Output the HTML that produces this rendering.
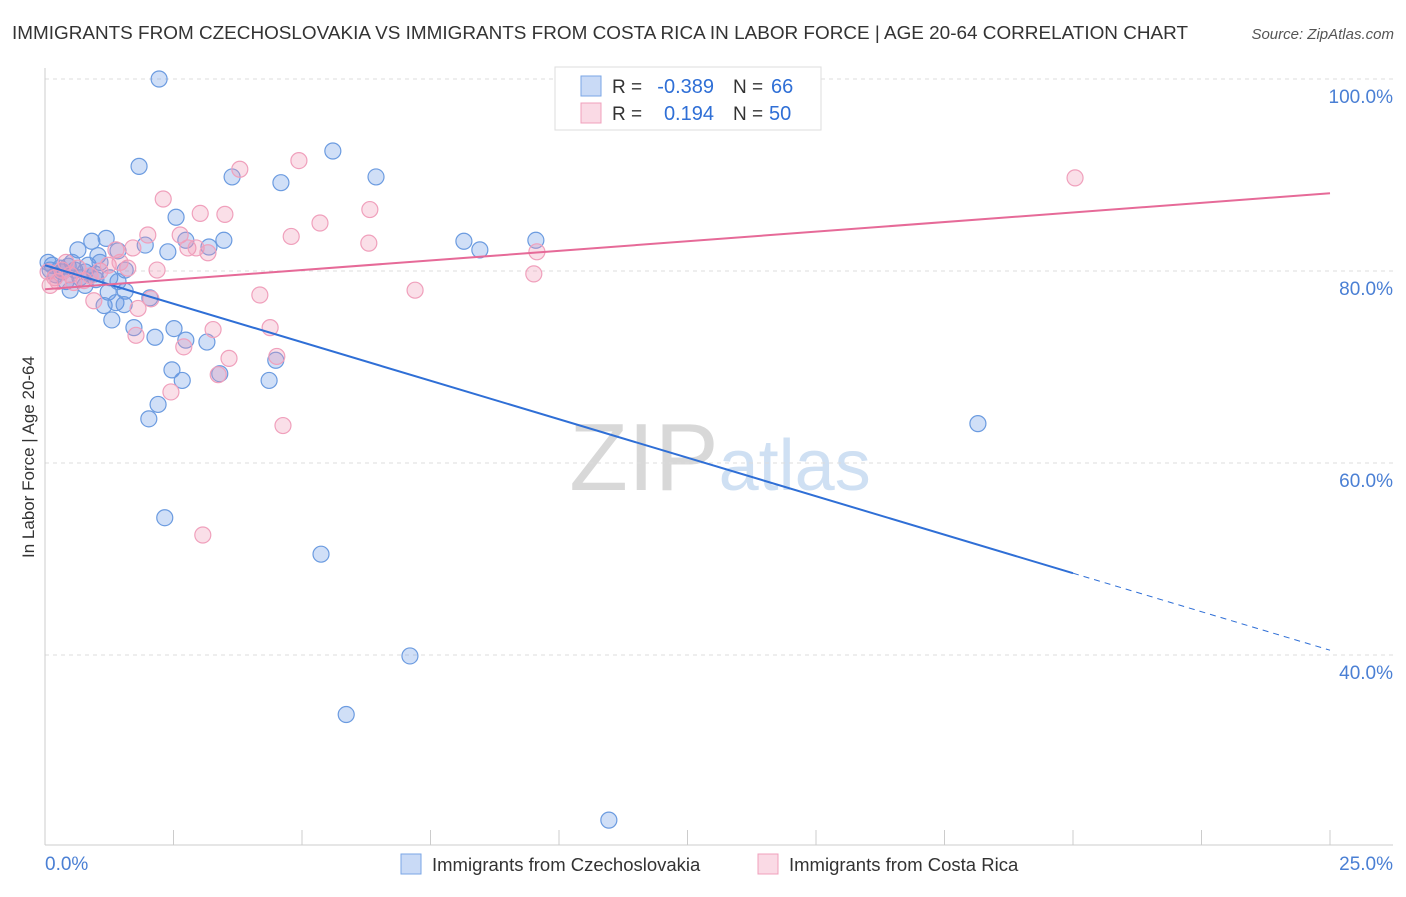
<!DOCTYPE html>
<html><head><meta charset="utf-8"><style>
body{margin:0;background:#fff;font-family:"Liberation Sans",sans-serif;}
svg text{font-family:"Liberation Sans",sans-serif;}
</style></head><body>
<svg id="chart" width="1406" height="892" xmlns="http://www.w3.org/2000/svg">
<text x="12" y="39" font-size="18.5" fill="#333" textLength="1176" lengthAdjust="spacingAndGlyphs">IMMIGRANTS FROM CZECHOSLOVAKIA VS IMMIGRANTS FROM COSTA RICA IN LABOR FORCE | AGE 20-64 CORRELATION CHART</text>
<text x="1394" y="39" font-size="15" fill="#555" text-anchor="end" font-style="italic">Source: ZipAtlas.com</text>
<text x="720" y="490" font-size="96" text-anchor="middle" font-family="Liberation Serif" fill="#ddd"><tspan fill="#d8d8d8">ZIP</tspan><tspan fill="#cfe0f3" font-family="Liberation Sans" font-size="72">atlas</tspan></text>
<g id="grid"></g>
<g id="axes"></g>
<g id="pts"></g>
<g id="lines"></g>
<text transform="translate(34,457) rotate(-90)" font-size="17" fill="#333" text-anchor="middle">In Labor Force | Age 20-64</text>
<g>
<rect x="555" y="67" width="266" height="63" fill="#fff" stroke="#ddd"/>
<rect x="581" y="76" width="20" height="20" fill="rgba(100,150,230,0.35)" stroke="#7aa6e6"/>
<rect x="581" y="103" width="20" height="20" fill="rgba(240,150,180,0.35)" stroke="#f0a0bc"/>
<text x="612" y="93" font-size="19" fill="#333">R =</text>
<text x="714" y="93" font-size="20" fill="#2f6fd6" text-anchor="end">-0.389</text>
<text x="733" y="93" font-size="19" fill="#333">N =</text>
<text x="771" y="93" font-size="20" fill="#2f6fd6">66</text>
<text x="612" y="120" font-size="19" fill="#333">R =</text>
<text x="714" y="120" font-size="20" fill="#2f6fd6" text-anchor="end">0.194</text>
<text x="733" y="120" font-size="19" fill="#333">N =</text>
<text x="769" y="120" font-size="20" fill="#2f6fd6">50</text>
</g>
<g>
<rect x="401" y="854" width="20" height="20" fill="rgba(100,150,230,0.35)" stroke="#7aa6e6"/>
<text x="432" y="871" font-size="18.5" fill="#333">Immigrants from Czechoslovakia</text>
<rect x="758" y="854" width="20" height="20" fill="rgba(240,150,180,0.35)" stroke="#f0a0bc"/>
<text x="789" y="871" font-size="18.5" fill="#333">Immigrants from Costa Rica</text>
</g>
</svg>
<script>
const blueX=[2.22,1.83,5.60,3.64,4.59,6.44,2.55,0.91,1.19,0.64,1.03,1.42,1.95,2.39,2.74,3.19,3.48,8.15,8.46,9.55,0.14,0.29,0.45,0.58,0.78,0.97,1.26,1.56,0.41,0.49,0.78,1.23,1.56,1.42,1.15,1.38,1.54,1.30,2.04,1.73,2.14,2.51,2.74,3.15,2.47,2.67,3.40,4.36,4.49,2.20,2.02,18.15,2.33,5.37,7.10,5.86,10.97,0.10,0.21,0.06,0.33,0.84,1.07,0.99,0.68,0.53];
const blueY=[100.0,90.9,92.5,89.8,89.2,89.8,85.6,83.1,83.4,82.2,81.6,82.1,82.7,82.0,83.2,82.5,83.2,83.1,82.2,83.2,80.6,80.3,80.5,80.1,79.9,79.7,79.3,80.1,78.9,78.0,78.5,77.8,77.9,78.9,76.4,76.7,76.5,74.9,77.2,74.1,73.1,74.0,72.8,72.6,69.7,68.6,69.3,68.6,70.7,66.1,64.6,64.1,54.3,50.5,39.9,33.8,22.8,80.1,79.6,80.9,79.9,80.6,80.9,79.1,79.3,80.9];
const pinkX=[20.04,3.79,4.94,2.30,3.02,3.50,5.35,6.32,4.79,6.30,2.00,2.63,2.78,2.94,3.17,1.71,1.38,9.57,9.51,2.18,1.61,1.07,7.20,4.18,2.06,0.95,1.81,4.38,3.27,1.77,2.70,3.58,4.51,3.37,2.45,4.63,3.07,0.10,0.19,0.33,0.49,0.64,0.76,0.06,0.41,1.23,1.46,0.88,0.25,0.56];
const pinkY=[89.7,90.6,91.5,87.5,86.0,85.9,85.0,86.4,83.6,82.9,83.75,83.75,82.4,82.4,81.9,82.4,82.2,82.0,79.7,80.1,80.3,80.0,78.0,77.5,77.1,76.9,76.1,74.1,73.9,73.3,72.1,70.9,71.1,69.2,67.4,63.9,52.5,78.5,79.3,80.1,79.6,80.3,79.0,79.9,80.9,80.6,80.9,79.5,78.9,78.8];
const blueTrend=[80.6,40.5];
const pinkTrend=[78.1,88.1];
const yTicks=[100,80,60,40];
const yTickLabels=["100.0%","80.0%","60.0%","40.0%"];
const xTicks=[0,2.5,5,7.5,10,12.5,15,17.5,20,22.5,25];

const NS="http://www.w3.org/2000/svg";
const sx=v=>45+v*(1330-45)/25;
const sy=v=>79+(100-v)*9.6;
function mk(tag,attrs,parent){const e=document.createElementNS(NS,tag);for(const k in attrs)e.setAttribute(k,attrs[k]);parent.appendChild(e);return e;}
const grid=document.getElementById('grid'),axes=document.getElementById('axes'),pts=document.getElementById('pts'),lines=document.getElementById('lines');
yTicks.forEach((t,i)=>{
  const l=mk('line',{x1:45,x2:1393,y1:sy(t),y2:sy(t),stroke:'#ddd','stroke-dasharray':'4,4'},grid);
  
  
  const tx=mk('text',{x:1393,y:sy(t)+24,'font-size':19,fill:'#4a7fd4','text-anchor':'end'},axes);
  tx.textContent=yTickLabels[i];
  
  
});
mk('line',{x1:45,x2:45,y1:68,y2:845,stroke:'#ccc'},axes);
mk('line',{x1:45,x2:1393,y1:845,y2:845,stroke:'#ccc'},axes);
xTicks.forEach(t=>{
  const l=mk('line',{x1:sx(t),x2:sx(t),y1:830,y2:845,stroke:'#ccc'},axes);
  
  
});
const xl0=mk('text',{x:45,y:870,'font-size':19,fill:'#4a7fd4'},axes);xl0.textContent="0.0%";


const xl1=mk('text',{x:1393,y:870,'font-size':19,fill:'#4a7fd4','text-anchor':'end'},axes);xl1.textContent="25.0%";


blueX.forEach((x,i)=>{
  const c=mk('circle',{cx:sx(x),cy:sy(blueY[i]),r:8,fill:'rgba(100,150,230,0.3)',stroke:'#6b9be0','stroke-width':1.2},pts);
  
  
});
pinkX.forEach((x,i)=>{
  const c=mk('circle',{cx:sx(x),cy:sy(pinkY[i]),r:8,fill:'rgba(240,150,180,0.3)',stroke:'#f0a0bc','stroke-width':1.2},pts);
  
  
});
const bAt=x=>blueTrend[0]+(blueTrend[1]-blueTrend[0])*x/25;
const b1=mk('line',{x1:sx(0),y1:sy(bAt(0)),x2:sx(20),y2:sy(bAt(20)),stroke:'#2f6fd6','stroke-width':2},lines);


const b2=mk('line',{x1:sx(20),y1:sy(bAt(20)),x2:sx(25),y2:sy(bAt(25)),stroke:'#2f6fd6','stroke-width':1,'stroke-dasharray':'6,5'},lines);


const p1=mk('line',{x1:sx(0),y1:sy(pinkTrend[0]),x2:sx(25),y2:sy(pinkTrend[1]),stroke:'#e66a98','stroke-width':2},lines);


</script>
</body></html>
